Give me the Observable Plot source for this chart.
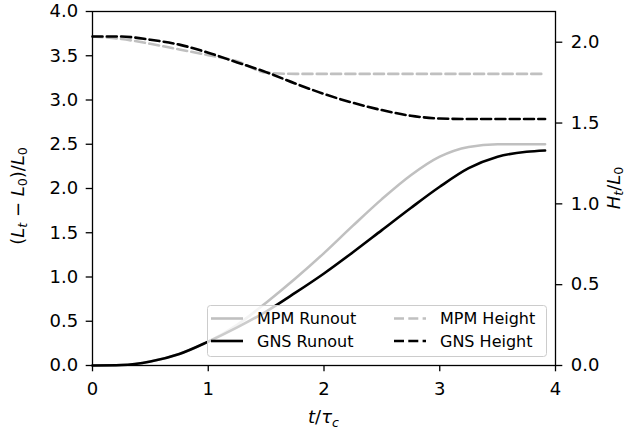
<!DOCTYPE html>
<html>
<head>
<meta charset="utf-8">
<script src="https://cdn.jsdelivr.net/npm/d3@7"></script>
<script src="https://cdn.jsdelivr.net/npm/@observablehq/plot@0.6"></script>
<style>
  html, body { margin: 0; padding: 0; background: white; }
  svg { display: block; }
</style>
</head>
<body>
<div id="chart"></div>
<script>
// ---- data ----
const time       = [0, 0.25, 0.5, 0.75, 1.0, 1.25, 1.5, 1.75, 2.0, 2.25, 2.5, 2.75, 3.0, 3.25, 3.5, 3.75, 3.91];
const mpmRunout  = [0, 0.005, 0.045, 0.13, 0.27, 0.46, 0.71, 0.98, 1.27, 1.58, 1.88, 2.15, 2.36, 2.47, 2.50, 2.50, 2.50];
const gnsRunout  = [0, 0.005, 0.045, 0.13, 0.27, 0.43, 0.61, 0.82, 1.04, 1.28, 1.53, 1.78, 2.02, 2.23, 2.36, 2.415, 2.43];
const mpmHeight  = [2.035, 2.02, 1.99, 1.955, 1.92, 1.882, 1.812, 1.804, 1.804, 1.804, 1.804, 1.804, 1.804, 1.804, 1.804, 1.804, 1.804];
const gnsHeight  = [2.035, 2.035, 2.015, 1.985, 1.935, 1.875, 1.815, 1.745, 1.68, 1.625, 1.58, 1.545, 1.528, 1.525, 1.525, 1.525, 1.525];

const xTicks     = [0, 1, 2, 3, 4];
const leftTicks  = [0, 0.5, 1.0, 1.5, 2.0, 2.5, 3.0, 3.5, 4.0];
const rightTicks = [0, 0.5, 1.0, 1.5, 2.0];
const leftDomain  = [0, 4];
const rightDomain = [0, 2.19];

const seriesNames = ["MPM Runout", "GNS Runout", "MPM Height", "GNS Height"];

// ---- build table ----
const K = (leftDomain[1] - leftDomain[0]) / (rightDomain[1] - rightDomain[0]);
const data = time.map((t, i) => ({
  t,
  mpmRunout: mpmRunout[i],
  gnsRunout: gnsRunout[i],
  mpmHeight: mpmHeight[i] * K,
  gnsHeight: gnsHeight[i] * K
}));

const GRAY = "#c0c0c0";
const LW = 2.6;
const DASH = "10,4.3";

const chart = Plot.plot({
  width: 627,
  height: 434,
  marginLeft: 92,
  marginRight: 72,
  marginTop: 11,
  marginBottom: 69,
  x: { domain: [0, 4] },
  y: { domain: leftDomain },
  style: { fontFamily: "DejaVu Sans", fontSize: "18px", color: "black", background: "white" },
  marks: [
    Plot.line(data, { x: "t", y: "mpmRunout", stroke: GRAY, strokeWidth: LW, curve: "monotone-x" }),
    Plot.line(data, { x: "t", y: "gnsRunout", stroke: "black", strokeWidth: LW, curve: "monotone-x" }),
    Plot.line(data, { x: "t", y: "mpmHeight", stroke: GRAY, strokeWidth: LW, strokeDasharray: DASH, curve: "monotone-x" }),
    Plot.line(data, { x: "t", y: "gnsHeight", stroke: "black", strokeWidth: LW, strokeDasharray: DASH, curve: "monotone-x" }),
    Plot.frame({ stroke: "black", strokeWidth: 1.3 }),
    Plot.axisX(xTicks, { tickSize: 6.3, tickPadding: 10, strokeWidth: 1.3, label: null, tickFormat: d => String(d) }),
    Plot.axisY(leftTicks, { anchor: "left", tickSize: 6.3, tickPadding: 8, strokeWidth: 1.3, label: null, tickFormat: d => d.toFixed(1) }),
    Plot.axisY(rightTicks.map(h => h * K), { anchor: "right", tickSize: 6.3, tickPadding: 9, strokeWidth: 1.3, label: null, tickFormat: d => (d / K).toFixed(1) })
  ]
});

document.getElementById("chart").appendChild(chart);

const svg = d3.select(chart);
const FONT = "DejaVu Sans";

// ---- axis labels with math-style subscripts ----
function mathLabel(g, parts, size) {
  const text = g.append("text").attr("font-family", FONT).attr("font-size", size).attr("fill", "black");
  let shifted = 0;
  parts.forEach(p => {
    const ts = text.append("tspan").text(p.s);
    if (p.i) ts.attr("font-style", "italic");
    if (p.sub) {
      ts.attr("font-size", size * 0.7).attr("dy", size * 0.22 - shifted);
      shifted = size * 0.22;
    } else {
      ts.attr("dy", -shifted);
      shifted = 0;
    }
  });
  return text;
}

// left label: (L_t − L_0)/L_0
{
  const g = svg.append("g").attr("transform", "translate(23.5,196) rotate(-90)");
  mathLabel(g, [
    { s: "(" }, { s: "L", i: true }, { s: "t", i: true, sub: true },
    { s: " − " }, { s: "L", i: true }, { s: "0", sub: true },
    { s: ")/" }, { s: "L", i: true }, { s: "0", sub: true }
  ], 18).attr("text-anchor", "middle");
}
// right label: H_t/L_0
{
  const g = svg.append("g").attr("transform", "translate(619.5,188) rotate(-90)");
  mathLabel(g, [
    { s: "H", i: true }, { s: "t", i: true, sub: true },
    { s: "/" }, { s: "L", i: true }, { s: "0", sub: true }
  ], 18).attr("text-anchor", "middle");
}
// x label: t/τ_c
{
  const g = svg.append("g").attr("transform", "translate(323.5,423)");
  mathLabel(g, [
    { s: "t", i: true }, { s: "/" }, { s: "τ", i: true }, { s: "c", i: true, sub: true }
  ], 18).attr("text-anchor", "middle");
}

// ---- legend ----
{
  const lg = svg.append("g");
  lg.append("rect")
    .attr("x", 207.5).attr("y", 305.5).attr("width", 339).attr("height", 51)
    .attr("rx", 3).attr("fill", "white").attr("fill-opacity", 0.8)
    .attr("stroke", "#cccccc").attr("stroke-width", 1);
  const entries = [
    { name: seriesNames[0], color: GRAY, dash: null, x: 211, y: 318.5 },
    { name: seriesNames[1], color: "black", dash: null, x: 211, y: 341 },
    { name: seriesNames[2], color: GRAY, dash: DASH, x: 394, y: 318.5 },
    { name: seriesNames[3], color: "black", dash: DASH, x: 394, y: 341 }
  ];
  entries.forEach(e => {
    const l = lg.append("line")
      .attr("x1", e.x).attr("x2", e.x + 32).attr("y1", e.y).attr("y2", e.y)
      .attr("stroke", e.color).attr("stroke-width", LW);
    if (e.dash) l.attr("stroke-dasharray", DASH);
    lg.append("text")
      .attr("x", e.x + 46).attr("y", e.y).attr("dy", "0.36em")
      .attr("text-anchor", "start")
      .attr("font-family", FONT).attr("font-size", 16).attr("fill", "black")
      .text(e.name);
  });
}
</script>
</body>
</html>
